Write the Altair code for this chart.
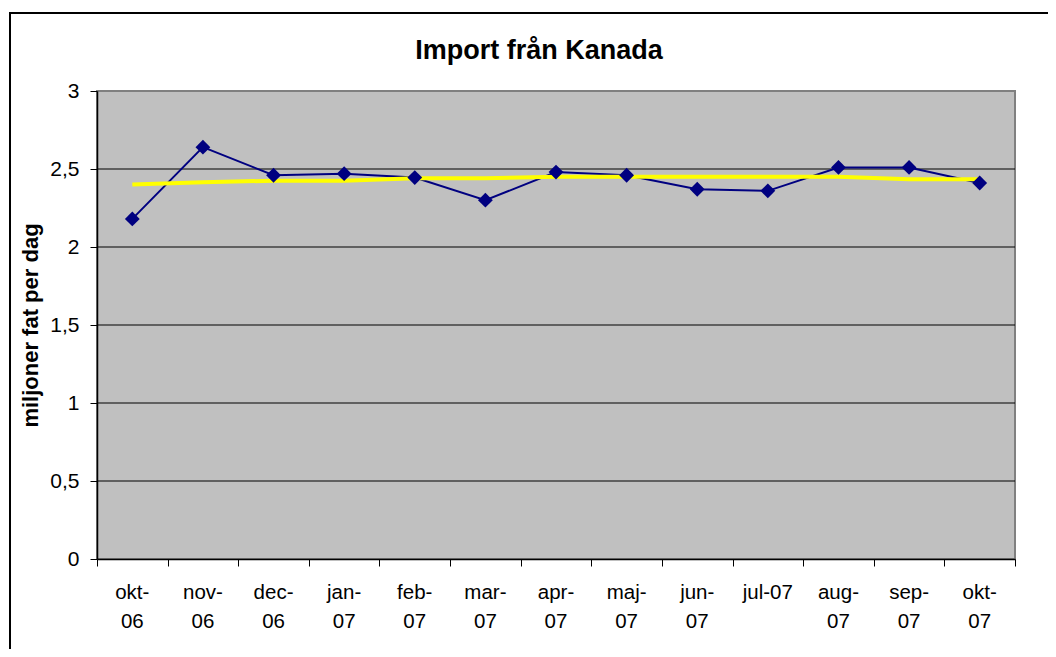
import altair as alt
import pandas as pd

chart_title = "Import från Kanada"
months = ["okt-06", "nov-06", "dec-06", "jan-07", "feb-07", "mar-07", "apr-07",
          "maj-07", "jun-07", "jul-07", "aug-07", "sep-07", "okt-07"]
month_labels = ["okt-\n06", "nov-\n06", "dec-\n06", "jan-\n07", "feb-\n07", "mar-\n07", "apr-\n07",
                "maj-\n07", "jun-\n07", "jul-07", "aug-\n07", "sep-\n07", "okt-\n07"]
import_kanada = [2.18, 2.64, 2.46, 2.47, 2.445, 2.30, 2.48, 2.46, 2.37, 2.36, 2.51, 2.51, 2.41]
trend = [2.40, 2.415, 2.425, 2.425, 2.44, 2.44, 2.45, 2.45, 2.45, 2.45, 2.45, 2.435, 2.435]
y_ticks = [0, 0.5, 1, 1.5, 2, 2.5, 3]
grid_values = [0.5, 1, 1.5, 2, 2.5]

FONT = "Liberation Sans"

df = pd.DataFrame({"month": months, "label": month_labels, "kanada": import_kanada, "trend": trend})
grid_df = pd.DataFrame({"g": grid_values})
title_df = pd.DataFrame({"t": [chart_title]})

x_scale = alt.Scale(type="band", paddingInner=0, paddingOuter=0)
x_enc = alt.X(
    "month:N",
    sort=months,
    title=None,
    scale=x_scale,
    axis=alt.Axis(
        orient="bottom",
        labels=False,
        tickBand="extent", tickSize=7, tickColor="black",
        domainColor="black", domainWidth=1.5, grid=False,
    ),
)

y_scale = alt.Scale(domain=[0, 3], nice=False)
y_axis = alt.Axis(
    values=y_ticks,
    labelExpr="replace(toString(datum.value), '.', ',')",
    labelFont=FONT, labelFontSize=21, labelColor="black", labelPadding=11,
    tickSize=7, tickColor="black", domainColor="black", domainWidth=1.5,
    grid=False,
    title="miljoner fat per dag",
    titleFont=FONT, titleFontSize=22, titleFontWeight="bold", titleColor="black",
    titleAngle=270, titleAlign="center", titleBaseline="middle",
    titleX=-67, titleY=234,
)

base = alt.Chart(df)

frame = alt.Chart(pd.DataFrame({"f": [0]})).mark_rect(
    fillOpacity=0, stroke="black", strokeWidth=2
).encode(
    x=alt.value(-87), x2=alt.value(965), y=alt.value(-78), y2=alt.value(575)
)

title_mark = alt.Chart(title_df).mark_text(
    font=FONT, fontSize=27, fontWeight="bold", color="black",
    align="center", baseline="alphabetic",
).encode(
    x=alt.value(442), y=alt.value(-32), text="t:N"
)

grid = alt.Chart(grid_df).mark_rule(color="black", strokeWidth=1).encode(
    y=alt.Y("g:Q", scale=y_scale, axis=y_axis),
)

blue = base.mark_line(color="#000080", strokeWidth=2).encode(
    x=x_enc,
    y=alt.Y("kanada:Q"),
)
blue_pts = base.mark_point(shape="diamond", filled=True, color="#000080", size=220, opacity=1).encode(
    x=alt.X("month:N", sort=months),
    y=alt.Y("kanada:Q"),
)
yellow = base.mark_line(color="#FFFF00", strokeWidth=4).encode(
    x=alt.X("month:N", sort=months),
    y=alt.Y("trend:Q"),
)
xlabels = base.mark_text(
    lineBreak="\n", baseline="top", align="center", font=FONT, fontSize=20.5,
    color="black", lineHeight=29,
).encode(
    x=alt.X("month:N", sort=months),
    y=alt.value(492),
    text="label:N",
)

chart = alt.layer(frame, title_mark, grid, blue, yellow, blue_pts, xlabels).properties(
    width=918,
    height=468,
    autosize=alt.AutoSizeParams(type="none"),
    padding={"left": 89, "top": 83, "right": 33, "bottom": 90},
    background="white",
).configure_view(
    fill="#C0C0C0", stroke="#808080", strokeWidth=2
)

chart.save("out.html", embed_options={"renderer": "svg", "actions": False})
